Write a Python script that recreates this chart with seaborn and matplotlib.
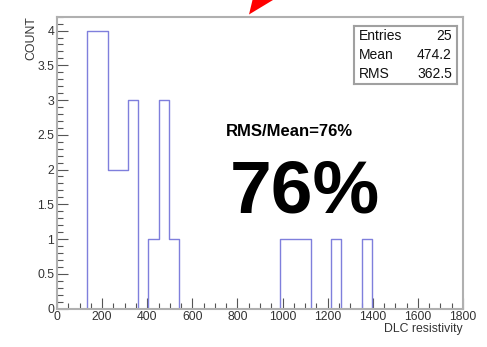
import numpy as np
import pandas as pd
import matplotlib
matplotlib.use("Agg")
import matplotlib.pyplot as plt
import seaborn as sns
from matplotlib.patches import Polygon
from matplotlib.ticker import MultipleLocator, FuncFormatter

# ---- data ----
bin_low = [135, 180, 225, 270, 315, 405, 450, 495, 990, 1035, 1080, 1215, 1350]
counts = [4, 4, 2, 2, 3, 1, 3, 1, 1, 1, 1, 1, 1]
bin_width = 45
x_range = (0, 1800)
stats_labels = ["Entries", "Mean", "RMS"]
stats_values = ["25", "474.2", "362.5"]
ratio_text = "RMS/Mean=76%"
big_text = "76%"

df = pd.DataFrame({"center": np.array(bin_low) + bin_width / 2, "count": counts})
n_bins = int((x_range[1] - x_range[0]) / bin_width)

sns.set_style("white")
plt.rcParams["font.family"] = ["Liberation Sans", "DejaVu Sans"]

fig = plt.figure(figsize=(4.87, 3.47), dpi=100)
ax = fig.add_axes([57 / 487, 1 - 308.5 / 347, (463 - 57) / 487, (308.5 - 16.7) / 347])

sns.histplot(data=df, x="center", weights="count", bins=n_bins, binrange=x_range,
             element="step", fill=False, color="#7f7fdc", linewidth=1.0, ax=ax)

ax.set_xlim(*x_range)
ax.set_ylim(0, 4.2)
ax.xaxis.set_major_locator(MultipleLocator(200))
ax.xaxis.set_minor_locator(MultipleLocator(50))
ax.yaxis.set_major_locator(MultipleLocator(0.5))
ax.yaxis.set_minor_locator(MultipleLocator(0.1))
ax.yaxis.set_major_formatter(FuncFormatter(lambda v, p: f"{v:g}"))
ax.tick_params(which="both", direction="in", color="#555555", labelcolor="#333333",
               labelsize=8.8, bottom=True, left=True, top=False, right=False)
ax.tick_params(which="major", length=8, width=0.8, pad=2)
ax.tick_params(which="minor", length=4, width=0.8)
for s in ax.spines.values():
    s.set_color("#b0b0b0")
    s.set_linewidth(1.5)

ax.set_xlabel("DLC resistivity", loc="right", fontsize=8.8, color="#333333", labelpad=0)
ax.set_ylabel("COUNT", loc="top", fontsize=8.8, color="#333333", labelpad=0)

# stats box
box_ax = fig.add_axes([354 / 487, 1 - 84 / 347, (457 - 354) / 487, (84 - 25.7) / 347])
box_ax.set_xticks([]); box_ax.set_yticks([])
for s in box_ax.spines.values():
    s.set_color("#a0a0a0")
    s.set_linewidth(1.5)
ys = [0.83, 0.5, 0.17]
for lab, val, yy in zip(stats_labels, stats_values, ys):
    box_ax.text(0.05, yy, lab, fontsize=10, va="center", ha="left", color="#111111")
    box_ax.text(0.95, yy, val, fontsize=10, va="center", ha="right", color="#111111")

fig.text(289 / 487, 1 - 132 / 347, ratio_text, fontsize=12, fontweight="bold",
         ha="center", va="center", color="black")
fig.text(305 / 487, 1 - 193 / 347, big_text, fontsize=54, fontweight="bold",
         ha="center", va="center", color="black")

# red arrow tip at top
tri = Polygon([(249 / 487, 1 - 14.5 / 347), (252.5 / 487, 1.0), (273 / 487, 1.0)],
              closed=True, facecolor="#ff0000", edgecolor="none", transform=fig.transFigure)
fig.patches.append(tri)

fig.savefig("out.png", dpi=100)
